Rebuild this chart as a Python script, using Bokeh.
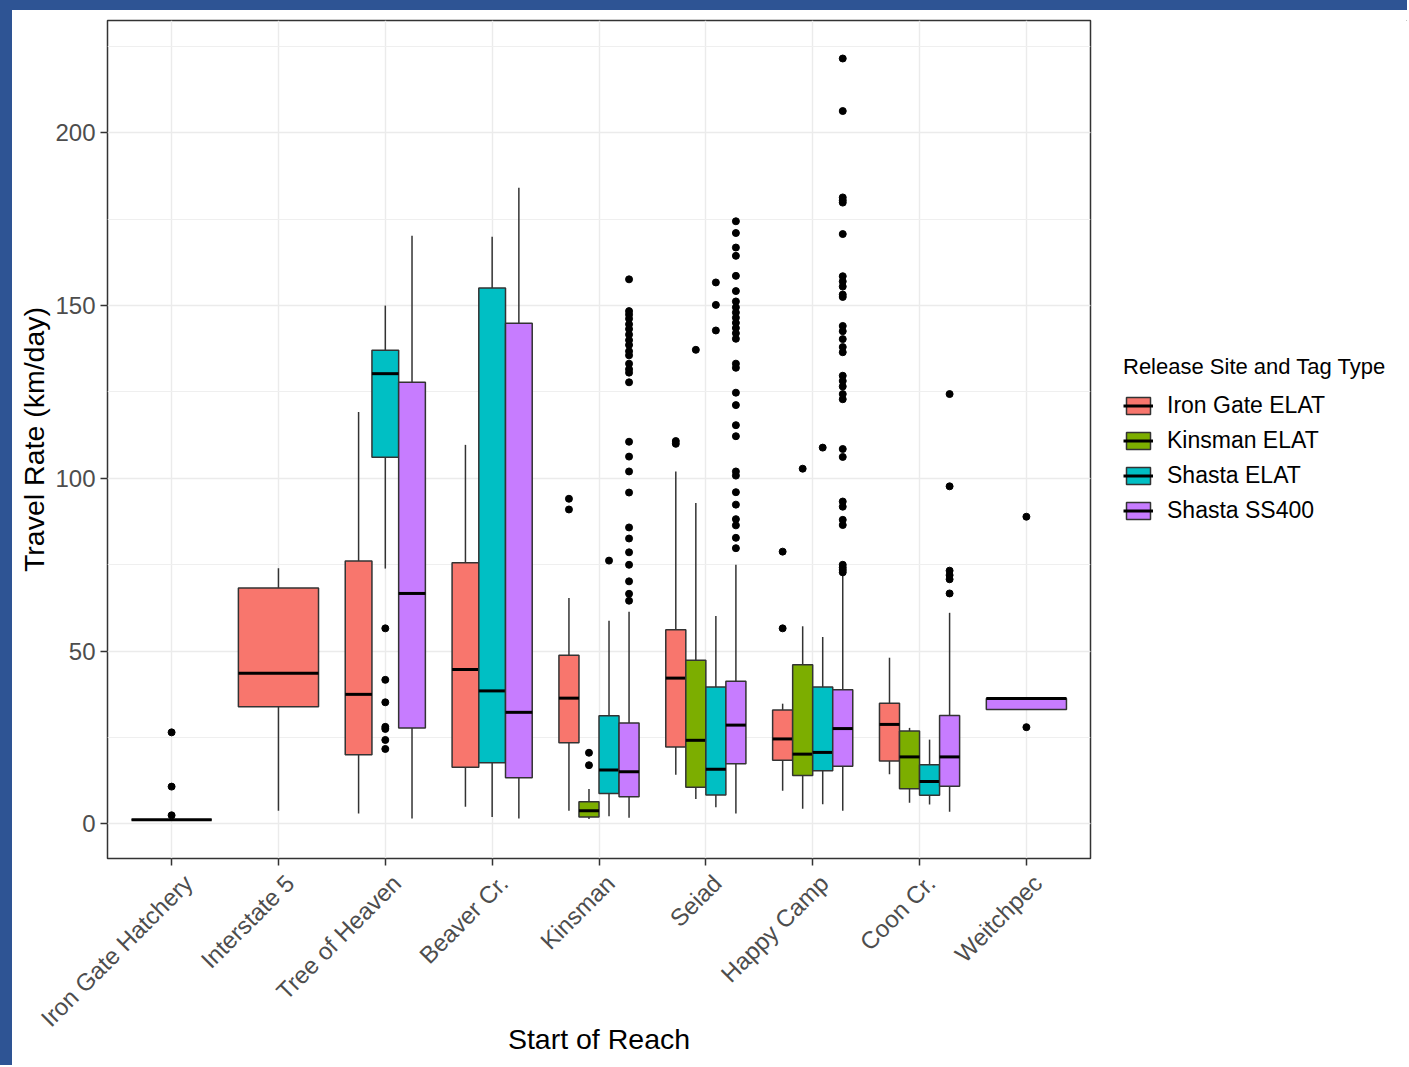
import math
from bokeh.plotting import figure
from bokeh.models import (ColumnDataSource, FactorRange, Range1d, Legend, LegendItem,
                          SingleIntervalTicker)
from bokeh.layouts import column, row
from bokeh.embed import file_html
from bokeh.resources import INLINE

# ---------------- data ----------------
categories = ["Iron Gate Hatchery", "Interstate 5", "Tree of Heaven", "Beaver Cr.",
              "Kinsman", "Seiad", "Happy Camp", "Coon Cr.", "Weitchpec"]
groups = ["Iron Gate ELAT", "Kinsman ELAT", "Shasta ELAT", "Shasta SS400"]
colors = ["#F8766D", "#7CAE00", "#00BFC4", "#C77CFF"]

box_cat = ["Iron Gate Hatchery",
           "Interstate 5",
           "Tree of Heaven", "Tree of Heaven", "Tree of Heaven",
           "Beaver Cr.", "Beaver Cr.", "Beaver Cr.",
           "Kinsman", "Kinsman", "Kinsman", "Kinsman",
           "Seiad", "Seiad", "Seiad", "Seiad",
           "Happy Camp", "Happy Camp", "Happy Camp", "Happy Camp",
           "Coon Cr.", "Coon Cr.", "Coon Cr.", "Coon Cr.",
           "Weitchpec"]
box_grp = ["Iron Gate ELAT",
           "Iron Gate ELAT",
           "Iron Gate ELAT", "Shasta ELAT", "Shasta SS400",
           "Iron Gate ELAT", "Shasta ELAT", "Shasta SS400",
           "Iron Gate ELAT", "Kinsman ELAT", "Shasta ELAT", "Shasta SS400",
           "Iron Gate ELAT", "Kinsman ELAT", "Shasta ELAT", "Shasta SS400",
           "Iron Gate ELAT", "Kinsman ELAT", "Shasta ELAT", "Shasta SS400",
           "Iron Gate ELAT", "Kinsman ELAT", "Shasta ELAT", "Shasta SS400",
           "Shasta SS400"]
whisker_low = [1.2, 3.8, 3.0, 73.9, 1.6, 5.0, 2.0, 1.6, 3.8, 1.4, 2.2, 1.8,
               14.2, 7.2, 4.8, 3.0, 9.6, 4.4, 5.7, 3.8, 14.4, 6.1, 5.6, 3.5, 33.1]
q1 = [1.2, 33.9, 20.0, 106.1, 27.8, 16.4, 17.7, 13.4, 23.5, 2.0, 8.8, 7.9,
      22.3, 10.6, 8.4, 17.4, 18.4, 14.0, 15.4, 16.7, 18.2, 10.2, 8.3, 10.9, 33.1]
median = [1.2, 43.6, 37.5, 130.3, 66.7, 44.7, 38.5, 32.3, 36.4, 3.8, 15.6, 15.1,
          42.2, 24.2, 15.8, 28.6, 24.6, 20.2, 20.7, 27.6, 28.8, 19.4, 12.3, 19.4, 36.3]
q3 = [1.2, 68.3, 76.1, 137.1, 127.8, 75.6, 155.1, 144.9, 48.8, 6.4, 31.3, 29.2,
      56.2, 47.4, 39.6, 41.3, 33.0, 46.1, 39.6, 38.8, 34.9, 26.9, 17.1, 31.4, 36.3]
whisker_high = [1.2, 74.0, 119.2, 150.0, 170.2, 109.7, 169.9, 184.1, 65.4, 10.1, 58.8, 61.4,
                102.0, 92.9, 60.2, 75.0, 34.8, 57.2, 54.1, 72.1, 48.1, 27.8, 24.4, 61.1, 36.3]

out_iron_gate_hatchery_ig = [2.5, 10.8, 26.5]
out_tree_of_heaven_shasta = [56.6, 41.7, 35.2, 28.1, 27.5, 24.3, 21.7]
out_kinsman_ig = [94.1, 91.0]
out_kinsman_kinsman = [20.6, 17.0]
out_kinsman_shasta = [76.2]
out_kinsman_ss400 = [157.6, 148.4, 147.4, 146.2, 144.6, 143.2, 141.6, 140.0, 138.6, 136.8,
                     135.6, 133.2, 131.6, 130.6, 127.8, 110.6, 106.3, 102.0, 95.9, 85.8,
                     82.6, 78.6, 75.0, 70.2, 66.6, 64.6]
out_seiad_ig = [110.8, 110.0]
out_seiad_kinsman = [137.2]
out_seiad_shasta = [156.7, 150.2, 142.8]
out_seiad_ss400 = [174.4, 171.0, 166.8, 164.4, 158.6, 154.2, 151.2, 149.5, 148.0, 146.5,
                   145.0, 143.5, 142.0, 140.4, 133.2, 132.0, 124.8, 121.2, 115.4, 112.2,
                   102.0, 100.8, 96.0, 92.4, 88.2, 86.4, 82.8, 79.8]
out_happy_camp_ig = [78.8, 56.6]
out_happy_camp_kinsman = [102.8]
out_happy_camp_shasta = [108.9]
out_happy_camp_ss400 = [221.5, 206.3, 181.3, 180.5, 179.8, 170.7, 158.5, 157.0, 155.5, 153.2,
                        152.5, 144.1, 142.6, 140.3, 138.0, 136.5, 129.7, 128.2, 126.6, 124.4,
                        122.9, 108.5, 106.2, 93.3, 91.8, 88.0, 86.5, 75.0, 74.2, 73.5, 72.8]
out_coon_cr_ss400 = [124.4, 97.7, 73.3, 72.0, 70.8, 66.7]
out_weitchpec_ss400 = [88.9, 28.0]

outlier_sets = [
    ("Iron Gate Hatchery", "Iron Gate ELAT", out_iron_gate_hatchery_ig),
    ("Tree of Heaven", "Shasta ELAT", out_tree_of_heaven_shasta),
    ("Kinsman", "Iron Gate ELAT", out_kinsman_ig),
    ("Kinsman", "Kinsman ELAT", out_kinsman_kinsman),
    ("Kinsman", "Shasta ELAT", out_kinsman_shasta),
    ("Kinsman", "Shasta SS400", out_kinsman_ss400),
    ("Seiad", "Iron Gate ELAT", out_seiad_ig),
    ("Seiad", "Kinsman ELAT", out_seiad_kinsman),
    ("Seiad", "Shasta ELAT", out_seiad_shasta),
    ("Seiad", "Shasta SS400", out_seiad_ss400),
    ("Happy Camp", "Iron Gate ELAT", out_happy_camp_ig),
    ("Happy Camp", "Kinsman ELAT", out_happy_camp_kinsman),
    ("Happy Camp", "Shasta ELAT", out_happy_camp_shasta),
    ("Happy Camp", "Shasta SS400", out_happy_camp_ss400),
    ("Coon Cr.", "Shasta SS400", out_coon_cr_ss400),
    ("Weitchpec", "Shasta SS400", out_weitchpec_ss400),
]

# axis factors: a leading blank line drops each rotated label so that its top
# edge (not its middle) hangs from the tick, as in the original
axis_factor = {c: "\n" + c for c in categories}

# ---------------- dodge positions ----------------
DODGE = 0.75
n_at = {c: box_cat.count(c) for c in categories}
offset = {}
width_of = {}
seen = {c: 0 for c in categories}
for c, g in zip(box_cat, box_grp):
    n = n_at[c]
    w = DODGE / n
    k = seen[c]
    seen[c] += 1
    offset[(c, g)] = -DODGE / 2 + w * (k + 0.5)
    width_of[(c, g)] = w

FONT = "Liberation Sans"
EDGE = "#333333"

p = figure(
    x_range=FactorRange(factors=[axis_factor[c] for c in categories],
                        range_padding=0.1, range_padding_units="absolute"),
    y_range=Range1d(-10.0, 232.5),
    width=1088, height=1055,
    output_backend="svg", toolbar_location=None,
    min_border_left=95, min_border_right=10, min_border_top=10, min_border_bottom=207,
    x_axis_label="Start of Reach", y_axis_label="Travel Rate (km/day)",
)
p.background_fill_color = "white"
p.border_fill_color = "white"
p.outline_line_color = EDGE
p.outline_line_width = 1.5

for g, col in zip(groups, colors):
    idx = [i for i, gg in enumerate(box_grp) if gg == g]
    xs, xl, xr, ws = [], [], [], []
    for i in idx:
        c = box_cat[i]
        f = axis_factor[c]
        off = offset[(c, g)]
        w = width_of[(c, g)]
        xs.append((f, off))
        xl.append((f, off - w / 2))
        xr.append((f, off + w / 2))
        ws.append(w)
    src = ColumnDataSource(data=dict(
        x=xs, xl=xl, xr=xr, w=ws,
        lo=[whisker_low[i] for i in idx], q1=[q1[i] for i in idx],
        med=[median[i] for i in idx], q3=[q3[i] for i in idx],
        hi=[whisker_high[i] for i in idx],
    ))
    p.segment(x0="x", y0="q3", x1="x", y1="hi", source=src, line_color=EDGE, line_width=1.5)
    p.segment(x0="x", y0="q1", x1="x", y1="lo", source=src, line_color=EDGE, line_width=1.5)
    p.vbar(x="x", width="w", bottom="q1", top="q3", source=src,
           fill_color=col, line_color=EDGE, line_width=1.5)
    p.segment(x0="xl", y0="med", x1="xr", y1="med", source=src,
              line_color="#000000", line_width=3)

ox, oy = [], []
for c, g, vals in outlier_sets:
    for v in vals:
        ox.append((axis_factor[c], offset[(c, g)]))
        oy.append(v)
p.scatter(x=ox, y=oy, size=7, color="black")

# ---------------- axes & grid ----------------
p.yaxis.ticker = SingleIntervalTicker(interval=50, num_minor_ticks=2)
p.ygrid.grid_line_color = "#EBEBEB"
p.ygrid.grid_line_width = 1.4
p.ygrid.minor_grid_line_color = "#EFEFEF"
p.ygrid.minor_grid_line_width = 1
p.xgrid.grid_line_color = "#EBEBEB"
p.xgrid.grid_line_width = 1.4

for ax in (p.xaxis[0], p.yaxis[0]):
    ax.axis_line_color = None
    ax.major_tick_line_color = EDGE
    ax.major_tick_line_width = 1.5
    ax.major_tick_out = 7
    ax.major_tick_in = 0
    ax.minor_tick_line_color = None
    ax.major_label_text_font = FONT
    ax.major_label_text_font_size = "24px"
    ax.major_label_text_color = "#4D4D4D"
    ax.major_label_standoff = 5
    ax.axis_label_text_font = FONT
    ax.axis_label_text_font_size = "28.5px"
    ax.axis_label_text_font_style = "normal"
    ax.axis_label_text_color = "#000000"
    ax.axis_label_standoff = 2

p.xaxis.major_label_orientation = math.pi / 4
p.xaxis.major_label_standoff = 2
p.xaxis.axis_label_standoff = -33

# ---------------- legend (own panel to the right) ----------------
lg = figure(width=307, height=1055, output_backend="svg", toolbar_location=None,
            x_range=Range1d(0, 1), y_range=Range1d(0, 1),
            x_axis_type=None, y_axis_type=None, min_border=0)
lg.outline_line_color = None
lg.background_fill_color = "white"
lg.border_fill_color = "white"
lg.xgrid.visible = False
lg.ygrid.visible = False

# key samples sit outside the legend panel's visible range; only the legend shows them
items = []
for g, col in zip(groups, colors):
    kb = lg.vbar(x=[5], top=[6], bottom=[5], width=0.1, fill_color=col,
                 line_color=EDGE, line_width=1.5)
    km = lg.segment(x0=[5], y0=[5], x1=[6], y1=[5], line_color="#000000", line_width=3)
    items.append(LegendItem(label=g, renderers=[kb, km]))

legend = Legend(
    items=items,
    location=(23, 334),
    title="Release Site and Tag Type",
    title_text_font=FONT, title_text_font_size="22px", title_text_color="#000000",
    title_text_font_style="normal", title_standoff=12,
    label_text_font=FONT, label_text_font_size="23px", label_text_color="#000000",
    glyph_width=30, glyph_height=21, label_standoff=14, spacing=8,
    padding=5, margin=0, border_line_color=None, background_fill_color="white",
)
lg.add_layout(legend)

root = column(row(p, lg, styles={"background-color": "white"}),
              styles={"background-color": "#2E5494",
                      "padding": "18px 0px 0px 20px",
                      "margin": "-8px 0px 0px -8px"})

open("out.html", "w").write(file_html(root, INLINE))
